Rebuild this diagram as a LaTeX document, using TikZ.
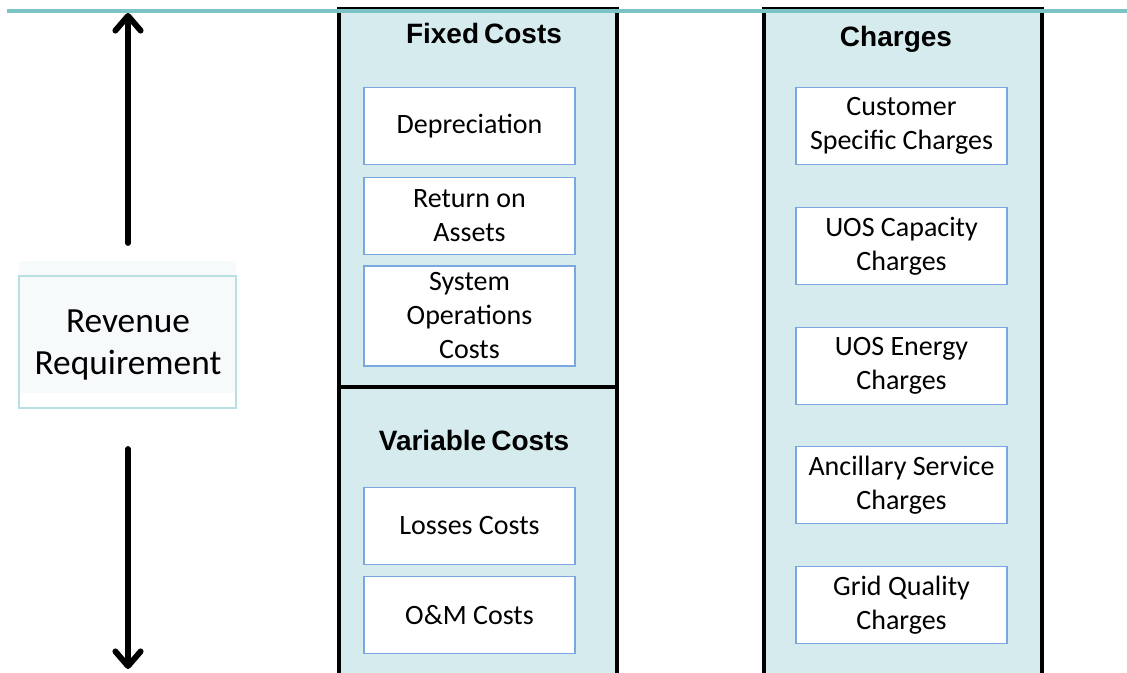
\documentclass[tikz,border=0pt]{standalone}
\usepackage{fontspec}
\setmainfont{Carlito}
\newfontfamily\headfont{Liberation Sans}
\usetikzlibrary{arrows.meta}
\definecolor{colfill}{HTML}{D6EBEE}
\definecolor{boxedge}{HTML}{7BA7E0}
\definecolor{tealline}{HTML}{7CC3C6}
\definecolor{revedge}{HTML}{B8DFE2}
\definecolor{revfill}{HTML}{F6FAFB}
\tikzset{
  costbox/.style={draw=boxedge, line width=1.1pt, fill=white, align=center,
    minimum width=158.25pt, minimum height=57.75pt, inner sep=2pt,
    font=\fontsize{21pt}{25.5pt}\selectfont},
  header/.style={font=\headfont\bfseries\fontsize{21pt}{25pt}\selectfont, inner sep=0pt},
  colside/.style={line width=3pt, black},
  coltop/.style={line width=1.6pt, black},
  bigarrow/.style={line width=4.4pt, line cap=round,
    -{Straight Barb[length=11pt, width=19pt, line cap=round, line join=round]}}
}
\begin{document}
\begin{tikzpicture}[x=0.75pt, y=-0.75pt]
\useasboundingbox (0,0) rectangle (1127,673);

% cost and charge columns
\fill[colfill] (339,8) rectangle (617,680);
\fill[colfill] (764,8) rectangle (1042,680);
\draw[coltop] (338,8) -- (618,8);
\draw[coltop] (763,8) -- (1043,8);
\draw[colside] (339,7) -- (339,680);
\draw[colside] (617,7) -- (617,680);
\draw[colside] (764,7) -- (764,680);
\draw[colside] (1042,7) -- (1042,680);
\draw[colside] (339,387) -- (617,387);

% headers
\node[header] (fixed) at (484,33) {Fixed\hspace{0.18em}Costs};
\node[header] (variable) at (474,440) {Variable\hspace{0.18em}Costs};
\node[header] (charges) at (896,39) {Charges};

% cost items
\node[costbox] (dep) at (469.5,126) {Depreciation};
\node[costbox] (roa) at (469.5,216) {Return on\\Assets};
\node[costbox, minimum height=75pt] (sys) at (469.5,316) {System\\Operations\\Costs};
\node[costbox] (loss) at (469.5,526) {Losses Costs};
\node[costbox] (om) at (469.5,615) {O\&M Costs};

% charge items
\node[costbox] (cust) at (901.5,126) {Customer\\Specific Charges};
\node[costbox] (cap) at (901.5,246) {UOS Capacity\\Charges};
\node[costbox] (energy) at (901.5,366) {UOS Energy\\Charges};
\node[costbox] (anc) at (901.5,485) {Ancillary Service\\Charges};
\node[costbox] (grid) at (901.5,605) {Grid Quality\\Charges};

% revenue requirement
\fill[revfill] (19,261) rectangle (236,393);
\draw[revedge, line width=1.6pt] (19,276) rectangle (236,408);
\node[align=center, inner sep=0pt, font=\fontsize{26.5pt}{31.5pt}\selectfont]
  (rev) at (128,345) {Revenue\\Requirement};

% arrows up and down from the revenue box
\coordinate (upstart) at (128,243);
\coordinate (upend) at (128,13);
\coordinate (downstart) at (128,449);
\coordinate (downend) at (128,669);
\draw[bigarrow] (upstart) -- (upend);
\draw[bigarrow] (downstart) -- (downend);

% top rule
\coordinate (ruleL) at (7,11);
\coordinate (ruleR) at (1127,11);
\draw[tealline, line width=2.4pt] (ruleL) -- (ruleR);
\end{tikzpicture}
\end{document}
